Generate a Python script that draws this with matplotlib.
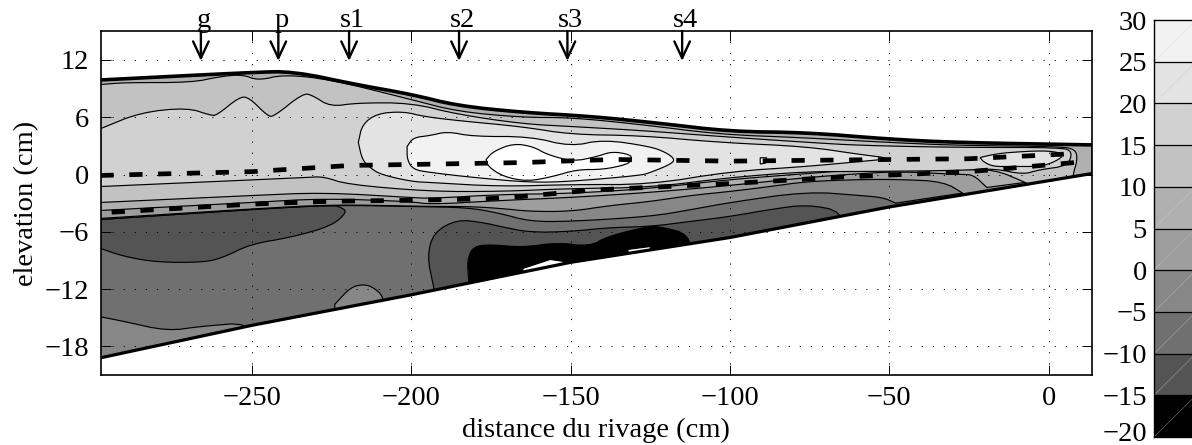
import matplotlib
matplotlib.use('Agg')
import matplotlib.pyplot as plt
from matplotlib.patches import Polygon
from matplotlib.transforms import ScaledTranslation

plt.rcParams['font.family'] = ['Liberation Serif', 'DejaVu Serif']
plt.rcParams['font.size'] = 20.5

W, H = 1192, 445

# surface et fond
surface_x = [-297.5, -250, -237, -217, -200, -185.5, -165, -144, -123, -100, -76, -50, -29, 13.6]
surface_y = [9.9, 10.7, 10.8, 9.4, 8.4, 7.2, 6.5, 6.1, 5.4, 4.5, 4.4, 3.7, 3.35, 3.1]
fond_x = [-297.5, -250, -200, -150, -100, -50, 13.6]
fond_y = [-19.2, -15.8, -12.6, -9.2, -6.6, -3.4, 0.1]

# niveaux de la barre de couleur
niveaux = [-20, -15, -10, -5, 0, 5, 10, 15, 20, 25, 30]
gris = ['0.0', '0.33', '0.44', '0.53', '0.62', '0.69', '0.76', '0.82', '0.89', '0.95']

# contours du bas (bord inferieur de chaque zone)
bord53_x = [-297.5, -250, -225, -200, -182, -172, -162.7, -150, -125, -112.5, -100, -75.8, -59, -52, -48]
bord53_y = [-4.71, -3.66, -3.2, -3.35, -3.46, -4.08, -4.92, -4.92, -4.4, -3.7, -2.93, -1.78, -2.2, -2.41, -3.0]
bord62_x = [-297.5, -250, -225, -200, -194, -182, -172, -162.7, -150, -137.6, -125, -112.5, -100, -87.4, -75.8, -59, -46.6, -33, -26.3]
bord62_y = [-4.6, -3.6, -3.15, -3.3, -3.35, -3.35, -3.55, -3.87, -3.87, -3.25, -2.83, -2.2, -1.78, -1.26, -0.73, -0.52, -0.52, -0.73, -2.09]
bord69_x = [-297.5, -250, -227.6, -200, -194, -172, -150, -125, -100, -75.8, -59, -46.6, -28, -23.7, -19.4]
bord69_y = [-3.77, -2.93, -2.51, -2.83, -3.14, -2.72, -2.41, -1.88, -1.15, -0.31, 0.1, 0.31, 0.0, 0.0, -1.36]

# zones fermees (haut puis retour par le bas)
zone76_x = [-297.5, -290, -269, -260, -253, -248, -240, -225.4, -200, -185.6, -165, -150, -128, -103, -78, -50, -28, 4, 8.5, 9,
            7.6, 7.6, -3, -8, -17, -28, -46.6, -59, -75.8, -100, -125, -150, -172, -194, -200, -227.6, -250, -297.5]
zone76_y = [9.42, 9.63, 9.63, 10.26, 10.47, 9.84, 10.47, 9.95, 7.85, 6.6, 5.97, 5.97, 5.24, 4.19, 3.87, 3.35, 3.04, 2.93, 2.6, 1.5,
            0.0, -1.5, -1.5, -0.73, 0.52, 0.52, 0.52, 0.52, 0.1, -0.52, -1.47, -1.99, -2.09, -2.51, -2.41, -1.88, -2.2, -2.93]
zone82_x = [-297.5, -285, -270.3, -263, -261, -254, -251, -245, -243, -234, -231, -225.4, -217, -200, -185.6, -165, -150, -128, -103, -75, -59, -28, 4, 7.5,
            6, -3, -8, -17, -28, -59, -76, -100, -125, -150, -172, -194, -220, -227.6, -232.6, -297.5]
zone82_y = [4.8, 6.5, 7.0, 6.2, 6.2, 8.1, 8.1, 6.1, 6.1, 8.5, 8.3, 7.1, 7.5, 7.5, 6.3, 5.3, 5.03, 4.61, 3.98, 3.35, 3.04, 2.83, 2.83, 2.4,
            0.9, 0.5, 0.0, 0.63, 0.42, 0.31, 0.31, -0.31, -1.36, -1.47, -1.78, -1.78, -1.05, -0.21, -0.31, -1.26]
zone89_x = [-216.6, -215.4, -210.7, -202.5, -196, -185.6, -165, -150, -128, -103, -76, -59, -49,
            -59, -76, -100, -125, -150, -172, -194, -200, -209.6, -213, -215.4, -216.6]
zone89_y = [3.35, 5.24, 6.39, 6.6, 6.07, 5.65, 5.0, 4.19, 4.08, 3.35, 2.93, 2.09, 1.68,
            1.36, 0.84, 0.31, -1.05, -1.05, -1.26, -0.84, -0.73, 0.0, 0.73, 1.57, 3.35]
ilot89_x = [-21.5, -17.5, -13, -1.8, 3.5, 4.5, 1.4, -2.7, -12, -17.5, -20.6, -21.5]
ilot89_y = [1.78, 2.09, 2.3, 2.51, 2.3, 1.88, 1.26, 0.84, 0.84, 0.84, 1.36, 1.78]
zone95_x = [-201.3, -199.4, -194, -188.7, -180.6, -162.7, -150, -139.8, -125, -120, -117.2, -118.8, -125, -128.2, -150, -162.7, -180.6, -194, -199.4, -201.3, -201.3]
zone95_y = [2.93, 3.87, 4.08, 4.5, 3.98, 3.98, 2.93, 3.66, 2.93, 2.3, 1.57, 1.05, 0.2, -0.1, -0.73, -0.84, -0.31, 0.21, 0.52, 1.57, 2.93]
blanc_x = [-176.5, -174.3, -168, -161.8, -157.4, -149.2, -141.7, -137, -131.3, -130.7, -132.3, -139.8, -148, -155.5, -163.6, -171.2, -175.9, -176.5]
blanc_y = [1.57, 2.41, 3.25, 2.93, 2.09, 1.36, 1.88, 2.41, 2.09, 1.57, 1.05, 0.52, 0.52, -0.21, -0.73, -0.21, 0.84, 1.57]
blanc2_x = [-90.5, -88.5, -88.8, -90.5]
blanc2_y = [1.75, 1.75, 1.2, 1.1]

# zones basses
bande_x = [-297.5, -290, -276.5, -266, -250.5, -250.5, -297.5]
bande_y = [-14.9, -15.4, -16.4, -15.9, -15.5, -18, -21]
bosse_x = [-224, -219, -215, -212, -208.6, -208.6, -224]
bosse_y = [-13.6, -11.8, -11.5, -11.8, -12.8, -15, -15]
langue_x = [-297.5, -250, -225, -222.3, -220, -225, -238, -250.5, -259, -265, -279.6, -290, -297.5]
langue_y = [-4.71, -3.66, -3.2, -3.4, -3.9, -5.4, -6.6, -7.3, -8.7, -9.2, -9.2, -8.6, -7.75]
lobe_x = [-193, -195, -193, -185.6, -177.5, -172, -162.7, -150, -137.6, -125, -112.5, -100, -87.4, -75.8, -64.5, -64.5, -193]
lobe_y = [-11.73, -8.59, -6.07, -4.71, -5.03, -5.45, -6.07, -5.97, -5.55, -5.45, -4.92, -4.4, -3.66, -3.14, -3.87, -7, -14]
noir_x = [-182, -182.4, -180.5, -175.2, -165, -154.2, -144, -138.5, -126, -122, -112.5, -112.5, -182]
noir_y = [-11, -8.9, -7.54, -7.33, -7.64, -7.12, -7.54, -6.49, -5.45, -5.45, -6.28, -9, -13]
fente1_x = [-165, -156.4, -152.3, -152, -165]
fente1_y = [-9.84, -8.9, -9.1, -9.5, -10.3]
fente2_x = [-132, -125, -125, -132]
fente2_y = [-7.85, -7.54, -8.0, -8.4]

# tirets
tiret_haut_x = [-297.5, -250, -219, -200, -165, -144, -135, -100, -50, -25, 9]
tiret_haut_y = [-0.1, 0.3, 0.95, 1.05, 1.25, 1.5, 1.57, 1.4, 1.57, 1.65, 2.2]
tiret_bas_x = [-294, -250, -225, -200, -177, -165, -144, -135, -100, -67, -25, -14, 8]
tiret_bas_y = [-3.95, -3.1, -2.8, -2.7, -2.55, -2.3, -1.65, -1.5, -0.95, -0.3, 0.3, 0.6, 1.25]

# sondes
sondes = ['g', 'p', 's1', 's2', 's3', 's4']
sondes_x = [-266, -241.7, -219.5, -185, -151, -115]


def axes_px(x0, y0, x1, y1):
    return plt.axes([x0 / W, 1 - y1 / H, (x1 - x0) / W, (y1 - y0) / H])


def arrondi(xs, ys, n=2):
    # coupe les coins pour le trace, les extremites restent en place
    xs, ys = list(xs), list(ys)
    for _ in range(n):
        nx, ny = [xs[0]], [ys[0]]
        for i in range(len(xs) - 1):
            nx += [0.75 * xs[i] + 0.25 * xs[i + 1], 0.25 * xs[i] + 0.75 * xs[i + 1]]
            ny += [0.75 * ys[i] + 0.25 * ys[i + 1], 0.25 * ys[i] + 0.75 * ys[i + 1]]
        xs, ys = nx + [xs[-1]], ny + [ys[-1]]
    return xs, ys


def zone(ax, xs, ys, couleur, clip, lisse=True):
    if lisse:
        xs, ys = arrondi(xs, ys)
    p = Polygon(list(zip(xs, ys)), closed=True, facecolor=couleur, edgecolor='k', linewidth=0.85, zorder=2)
    ax.add_patch(p)
    p.set_clip_path(clip)


def zone_sous_surface(ax, bx, by, couleur, clip):
    # du bord gauche de la surface jusqu'au fond, puis retour par le contour
    bx, by = arrondi(bx, by)
    fx = [x for x in fond_x if x > bx[-1]]
    fy = [y for x, y in zip(fond_x, fond_y) if x > bx[-1]]
    xs = surf_x + fx[::-1] + bx[::-1]
    ys = surf_y + fy[::-1] + by[::-1]
    zone(ax, xs, ys, couleur, clip, lisse=False)


fig = plt.figure(figsize=(W / 100, H / 100), dpi=100)
ax = axes_px(100.5, 31, 1092, 375)

surf_x, surf_y = arrondi(surface_x, surface_y)
contour_x = surf_x + fond_x[::-1]
contour_y = surf_y + fond_y[::-1]
clip = Polygon(list(zip(contour_x, contour_y)), closed=True, transform=ax.transData)

ax.fill(contour_x, contour_y, color=gris[2], zorder=1)
zone(ax, bande_x, bande_y, gris[3], clip)
zone(ax, bosse_x, bosse_y, gris[3], clip)
zone(ax, langue_x, langue_y, gris[1], clip)
zone(ax, lobe_x, lobe_y, gris[1], clip)
zone(ax, noir_x, noir_y, gris[0], clip)
zone(ax, fente1_x, fente1_y, 'white', clip, lisse=False)
zone(ax, fente2_x, fente2_y, 'white', clip, lisse=False)

zone_sous_surface(ax, bord53_x, bord53_y, gris[3], clip)
zone_sous_surface(ax, bord62_x, bord62_y, gris[4], clip)
zone_sous_surface(ax, bord69_x, bord69_y, gris[5], clip)
zone(ax, zone76_x, zone76_y, gris[6], clip)
zone(ax, zone82_x, zone82_y, gris[7], clip)
zone(ax, zone89_x, zone89_y, gris[8], clip)
zone(ax, ilot89_x, ilot89_y, gris[8], clip)
zone(ax, zone95_x, zone95_y, gris[9], clip)
zone(ax, blanc_x, blanc_y, 'white', clip)
zone(ax, blanc2_x, blanc2_y, 'white', clip, lisse=False)

ax.plot(surf_x, surf_y, color='k', lw=2.6, zorder=4, solid_capstyle='butt')
ax.plot(fond_x, fond_y, color='k', lw=2.3, zorder=4, solid_capstyle='butt')
ax.plot(tiret_haut_x, tiret_haut_y, color='k', lw=3.4, ls=(0, (2.8, 3.3)), zorder=5)
ax.plot(tiret_bas_x, tiret_bas_y, color='k', lw=3.4, ls=(0, (2.8, 3.3)), zorder=5)

for nom, xs in zip(sondes, sondes_x):
    ax.annotate('', xy=(xs, 11.9), xytext=(xs, 15.03), zorder=6, annotation_clip=False,
                arrowprops=dict(arrowstyle='->,head_length=0.75,head_width=0.35', color='k', lw=1.7,
                                shrinkA=0, shrinkB=0, mutation_scale=16))
    ax.text(xs + 1, 15.5, nom, ha='center', va='baseline')

ax.set_xlim(-297.5, 13.6)
ax.set_ylim(-21, 15.03)
ax.set_xticks([-250, -200, -150, -100, -50, 0])
ax.set_yticks([-18, -12, -6, 0, 6, 12])
ax.grid(True, color='k', lw=0.7, ls=(0, (1.2, 10.2)), zorder=3)
ax.set_axisbelow(False)
ax.tick_params(direction='in', length=7, width=0.7, top=True, right=True, pad=8)
ax.set_xlabel('distance du rivage (cm)', labelpad=4.5)
ax.set_ylabel('elevation (cm)', labelpad=4)
for s in ax.spines.values():
    s.set_linewidth(1.2)

# barre de couleur, coupee par le bord de la figure
cax = axes_px(1154, 20, 1196, 437)
for i, g in enumerate(gris):
    cax.fill_between([0, 1], niveaux[i], niveaux[i + 1], color=g, lw=0, zorder=1)
    cax.plot([0, 1], [niveaux[i], niveaux[i + 1]], color='0.8', lw=0.4, alpha=0.6, zorder=2)
    cax.plot([0, 1], [niveaux[i], niveaux[i]], color='k', lw=0.9, zorder=3)
cax.set_xlim(0, 1)
cax.set_ylim(-20, 30)
cax.set_xticks([])
cax.set_yticks(niveaux)
cax.tick_params(direction='in', length=2, width=0.6, pad=5)
for lab in cax.get_yticklabels():
    lab.set_va('center_baseline')
# le -20 remonte un peu pour rester dans la figure
bas = cax.get_yticklabels()[0]
bas.set_transform(bas.get_transform() + ScaledTranslation(0, 4 / 72, fig.dpi_scale_trans))
for s in cax.spines.values():
    s.set_linewidth(1.0)

fig.savefig('out.png', dpi=100)
